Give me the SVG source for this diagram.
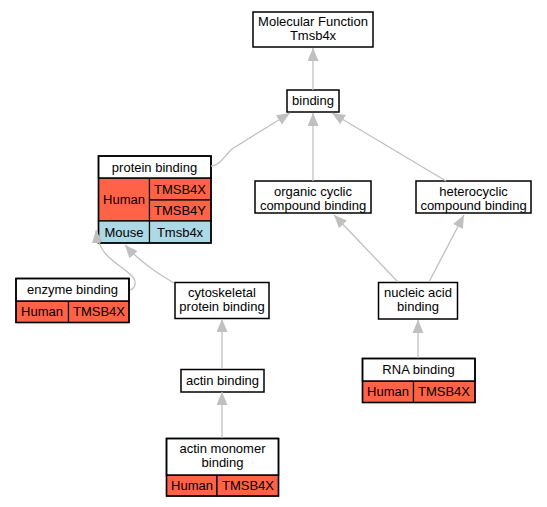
<svg xmlns="http://www.w3.org/2000/svg" width="547" height="507" viewBox="0 0 547 507">
<style>
text{font-family:"Liberation Sans",Arial,sans-serif;font-size:13px;fill:#000;text-anchor:middle}
.box{fill:#fff;stroke:#000;stroke-width:1.5}
.hum{fill:#ff6347;stroke:#000;stroke-width:1.2}
.mou{fill:#add8e6;stroke:#000;stroke-width:1.2}
.edge{fill:none;stroke:#c0c0c0;stroke-width:1.3;marker-end:url(#arr)}
</style>
<defs>
<marker id="arr" markerUnits="userSpaceOnUse" markerWidth="13" markerHeight="11" refX="13" refY="5.5" orient="auto" viewBox="0 0 13 11">
<path d="M0,0 L13,5.5 L0,11 z" fill="#c0c0c0"/>
</marker>
</defs>
<rect width="547" height="507" fill="#fff"/>
<g id="molecular_function">
<rect class="box" x="253" y="12" width="120" height="35"/>
<text x="313" y="26">Molecular Function</text>
<text x="313" y="40">Tmsb4x</text>
</g>
<g id="binding">
<rect class="box" x="287" y="90" width="52" height="22"/>
<text x="313" y="105">binding</text>
</g>
<g id="organic_cyclic">
<rect class="box" x="255" y="181" width="116" height="32"/>
<text x="313" y="196">organic cyclic</text>
<text x="313" y="210">compound binding</text>
</g>
<g id="heterocyclic">
<rect class="box" x="416" y="181" width="115" height="32"/>
<text x="473.5" y="196">heterocyclic</text>
<text x="473.5" y="210">compound binding</text>
</g>
<g id="protein_binding">
<rect class="hum" x="98.5" y="178" width="51" height="43"/>
<rect class="hum" x="149.5" y="178" width="61.5" height="22"/>
<rect class="hum" x="149.5" y="200" width="61.5" height="21"/>
<rect class="mou" x="98.5" y="221" width="51" height="22"/>
<rect class="mou" x="149.5" y="221" width="61.5" height="22"/>
<rect class="box" x="98.5" y="156" width="112.5" height="22"/>
<rect x="98.5" y="156" width="112.5" height="87" fill="none" stroke="#000" stroke-width="1.5"/>
<text x="154.5" y="172">protein binding</text>
<text x="124" y="204">Human</text>
<text x="180" y="194">TMSB4X</text>
<text x="180" y="215">TMSB4Y</text>
<text x="124" y="237">Mouse</text>
<text x="180" y="237">Tmsb4x</text>
</g>
<g id="enzyme_binding">
<rect class="hum" x="16" y="301" width="52.5" height="21.5"/>
<rect class="hum" x="68.5" y="301" width="60.5" height="21.5"/>
<rect class="box" x="16" y="278.5" width="113" height="22.5"/>
<rect x="16" y="278.5" width="113" height="44" fill="none" stroke="#000" stroke-width="1.5"/>
<text x="72.5" y="294">enzyme binding</text>
<text x="42" y="316">Human</text>
<text x="99" y="316">TMSB4X</text>
</g>
<g id="cytoskeletal">
<rect class="box" x="175" y="282.5" width="94" height="36"/>
<text x="222" y="297">cytoskeletal</text>
<text x="222" y="311">protein binding</text>
</g>
<g id="nucleic_acid">
<rect class="box" x="378.5" y="282.5" width="79" height="36.5"/>
<text x="418" y="297">nucleic acid</text>
<text x="418" y="311">binding</text>
</g>
<g id="actin_binding">
<rect class="box" x="181" y="369.5" width="83" height="22.5"/>
<text x="222.5" y="385">actin binding</text>
</g>
<g id="actin_monomer">
<rect class="hum" x="166.5" y="475" width="50.5" height="21"/>
<rect class="hum" x="217" y="475" width="61.5" height="21"/>
<rect class="box" x="166.5" y="438.5" width="112" height="36.5"/>
<rect x="166.5" y="438.5" width="112" height="57.5" fill="none" stroke="#000" stroke-width="1.5"/>
<text x="222.5" y="453">actin monomer</text>
<text x="222.5" y="467">binding</text>
<text x="192" y="490">Human</text>
<text x="248" y="490">TMSB4X</text>
</g>
<g id="rna_binding">
<rect class="hum" x="362.5" y="381" width="51" height="21.5"/>
<rect class="hum" x="413.5" y="381" width="61.5" height="21.5"/>
<rect class="box" x="362.5" y="358.5" width="112.5" height="22.5"/>
<rect x="362.5" y="358.5" width="112.5" height="44" fill="none" stroke="#000" stroke-width="1.5"/>
<text x="418.5" y="374">RNA binding</text>
<text x="388" y="396">Human</text>
<text x="444" y="396">TMSB4X</text>
</g>
<g id="connectors">
<path class="edge" d="M313,90 L313,48"/>
<path class="edge" d="M211,166 C220,166 224,156 232,149 L290,113"/>
<path class="edge" d="M313,181 L313,113"/>
<path class="edge" d="M446,181 L332,113"/>
<path class="edge" d="M398,282 L334,215"/>
<path class="edge" d="M429,282 L464,215"/>
<path class="edge" d="M418,358 L418,320"/>
<path class="edge" d="M174,283 C160,275 140,262 125,245"/>
<path class="edge" d="M130,290 C136,288 137,281 132,276 C118,262 99,258 96,230"/>
<path class="edge" d="M222,369 L222,319"/>
<path class="edge" d="M222,438 L222,392"/>
</g>
</svg>
